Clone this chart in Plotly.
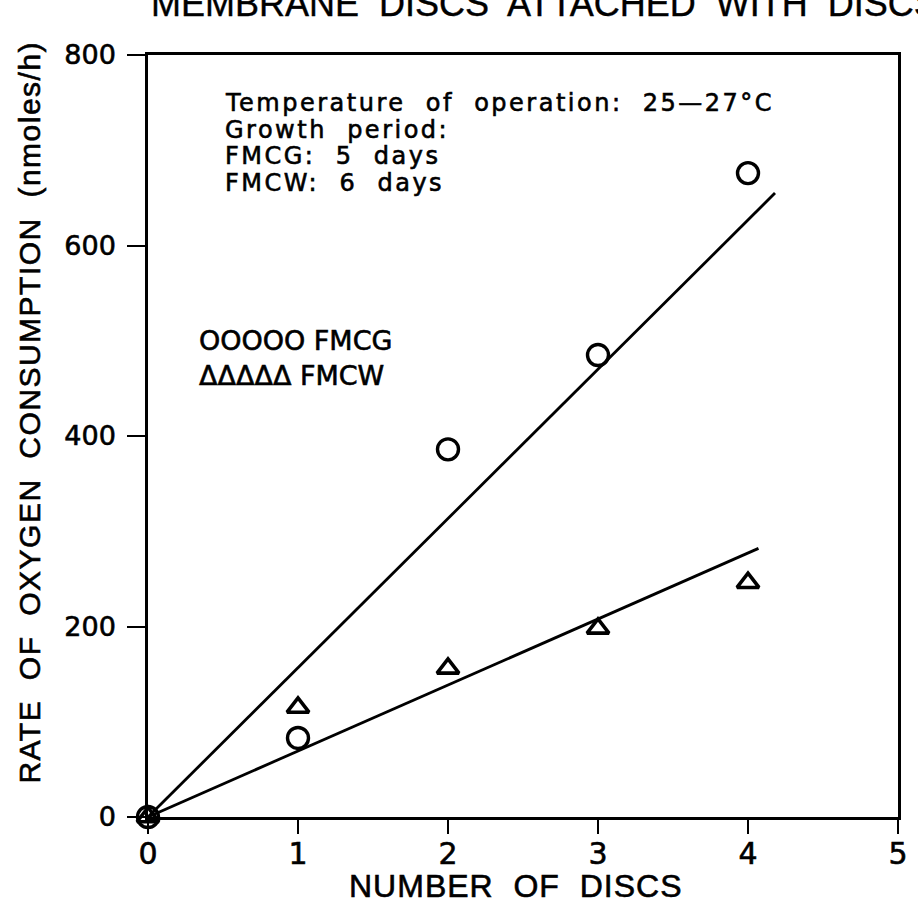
import plotly.graph_objects as go

# ---- data ----
discs = [0, 1, 2, 3, 4]
fmcg_rate = [0, 83, 386, 485, 676]
fmcw_rate = [0, 115, 156, 198, 246]
fmcg_fit_x = [0, 4.18]
fmcg_fit_y = [0, 655]
fmcw_fit_x = [0, 4.07]
fmcw_fit_y = [0, 282]
x_ticks = [0, 1, 2, 3, 4, 5]
y_ticks = [0, 200, 400, 600, 800]
info_lines = ["Temperature  of  operation:  25\u201427\u00b0C",
              "Growth  period:",
              "FMCG:  5  days",
              "FMCW:  6  days"]
legend_lines = ["OOOOO FMCG", "\u0394\u0394\u0394\u0394\u0394 FMCW"]
title_text = "MEMBRANE  DISCS  ATTACHED  WITH  DISCS"
x_title = "NUMBER  OF  DISCS"
y_title = "RATE  OF  OXYGEN  CONSUMPTION  (nmoles/h)"

W, H = 918, 908
L, R, T, B = 148, 10, 55, 91
PW, PH = W - L - R, H - T - B
FONT = "Liberation Sans, Arial, sans-serif"
DFONT = "DejaVu Sans, sans-serif"


def px(xp):
    return (xp - L) / PW


def py(yp):
    return 1 - (yp - T) / PH


def styled(s, ls=0, sw=0.6):
    return ('<span style="letter-spacing:%spx;stroke:black;stroke-width:%spx">%s</span>'
            % (ls, sw, s))


fig = go.Figure()
fig.add_trace(go.Scatter(x=fmcg_fit_x, y=fmcg_fit_y, mode="lines",
                         line=dict(color="black", width=2.8), showlegend=False))
fig.add_trace(go.Scatter(x=fmcw_fit_x, y=fmcw_fit_y, mode="lines",
                         line=dict(color="black", width=2.8), showlegend=False))
fig.add_trace(go.Scatter(x=discs, y=fmcg_rate, mode="markers", cliponaxis=False,
                         marker=dict(symbol="circle-open", size=21, color="black",
                                     line=dict(width=3.4, color="black")),
                         showlegend=False))
fig.add_trace(go.Scatter(x=discs, y=fmcw_rate, mode="markers", cliponaxis=False,
                         marker=dict(symbol="triangle-up-open", size=19, color="black",
                                     line=dict(width=3.6, color="black")),
                         showlegend=False))

ann = []
# cut-off title at top
ann.append(dict(text=styled(title_text, 0, 0.4), xref="paper", yref="paper",
                x=px(149), y=py(4), xanchor="left", yanchor="middle", showarrow=False,
                font=dict(family=FONT, size=36, color="black")))
# info text block
for i, t in enumerate(info_lines):
    ann.append(dict(text=styled(t, 2.5), xref="paper", yref="paper", x=px(224),
                    y=py(103 + 26.5 * i), xanchor="left", yanchor="middle", showarrow=False,
                    font=dict(family=DFONT, size=24, color="black")))
# legend text
for i, t in enumerate(legend_lines):
    ann.append(dict(text=styled(t, 0), xref="paper", yref="paper", x=px(198),
                    y=py(340 + 36 * i), xanchor="left", yanchor="middle", showarrow=False,
                    font=dict(family=DFONT, size=27, color="black")))
# y axis title
ann.append(dict(text=styled(y_title, 1.5), xref="paper", yref="paper",
                x=px(27), y=py(412), xanchor="center", yanchor="middle", textangle=-90,
                showarrow=False, font=dict(family=FONT, size=30, color="black")))
# x axis title
ann.append(dict(text=styled(x_title, 1), xref="paper", yref="paper",
                x=px(520), y=py(886), xanchor="center", yanchor="middle",
                showarrow=False, font=dict(family=FONT, size=32, color="black")))

fig.update_layout(
    width=W, height=H,
    margin=dict(l=L, r=R, t=T, b=B),
    paper_bgcolor="white", plot_bgcolor="white",
    showlegend=False,
    annotations=ann,
    xaxis=dict(range=[0, 5], tickvals=x_ticks, ticktext=[styled(str(v)) for v in x_ticks],
               ticks="outside", ticklen=14, tickwidth=2, ticklabelstandoff=-6,
               tickcolor="black", showline=True, linecolor="black", linewidth=2.5,
               mirror=True, showgrid=False, zeroline=False,
               tickfont=dict(family=DFONT, size=30, color="black")),
    yaxis=dict(range=[0, 800], tickvals=y_ticks, ticktext=[styled(str(v)) for v in y_ticks],
               ticks="outside", ticklen=18, tickwidth=2,
               tickcolor="black", showline=True, linecolor="black", linewidth=2.5,
               mirror=True, showgrid=False, zeroline=False, ticklabelstandoff=6,
               tickfont=dict(family=DFONT, size=27, color="black")),
)

fig.write_html("out.html")
